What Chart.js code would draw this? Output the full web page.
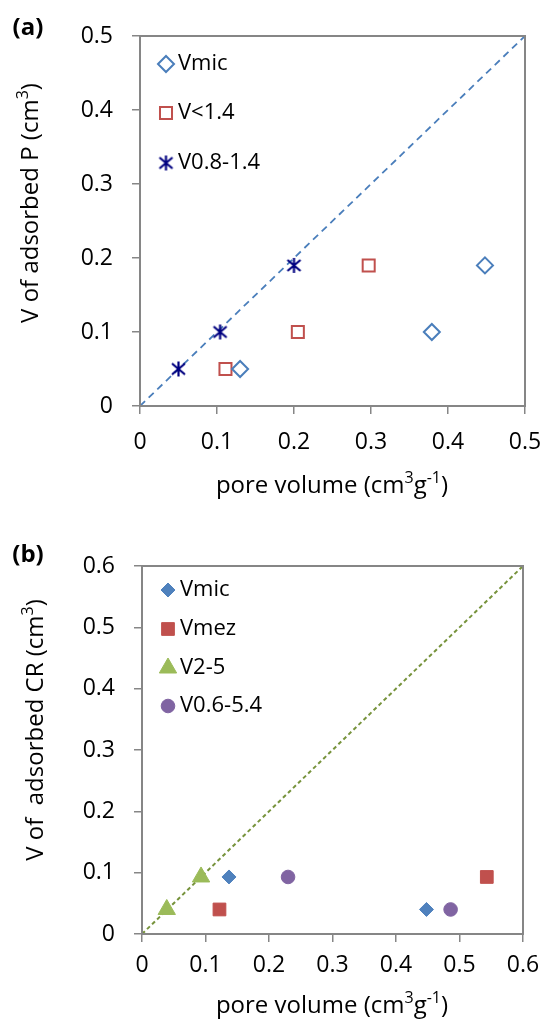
<!DOCTYPE html>
<html>
<head>
<meta charset="utf-8">
<script src="https://cdn.jsdelivr.net/npm/chart.js@4.4.1/dist/chart.umd.min.js"></script>
<style>
  html, body { margin: 0; padding: 0; background: #fff; }
  #wrapA { position: absolute; left: 0; top: 0; width: 543px; height: 500px; }
  #wrapB { position: absolute; left: 0; top: 500px; width: 543px; height: 520px; }
</style>
</head>
<body>
<div id="wrapA"><canvas id="chartA" width="543" height="500"></canvas></div>
<div id="wrapB"><canvas id="chartB" width="543" height="520"></canvas></div>
<script>
// ---------- Data: panel (a) ----------
const aVmicX = [0.130, 0.379, 0.448];
const aVmicY = [0.05, 0.10, 0.19];
const aV14X = [0.111, 0.205, 0.297];
const aV14Y = [0.05, 0.10, 0.19];
const aV0814X = [0.050, 0.104, 0.200];
const aV0814Y = [0.05, 0.10, 0.19];
const aLineX = [0, 0.5];
const aLineY = [0, 0.5];
const aSeriesNames = ['Vmic', 'V<1.4', 'V0.8-1.4'];
const aTicks = [0, 0.1, 0.2, 0.3, 0.4, 0.5];

// ---------- Data: panel (b) ----------
const bVmicX = [0.137, 0.448];
const bVmicY = [0.093, 0.040];
const bVmezX = [0.122, 0.543];
const bVmezY = [0.040, 0.093];
const bV25X = [0.039, 0.093];
const bV25Y = [0.040, 0.093];
const bV0654X = [0.230, 0.486];
const bV0654Y = [0.093, 0.040];
const bLineX = [0, 0.6];
const bLineY = [0, 0.6];
const bSeriesNames = ['Vmic', 'Vmez', 'V2-5', 'V0.6-5.4'];
const bTicks = [0, 0.1, 0.2, 0.3, 0.4, 0.5, 0.6];

const FONT = "'Open Sans', 'Noto Sans', sans-serif";
const AXIS_GRAY = '#868686';

function pts(xs, ys) { return xs.map((x, i) => ({ x: x, y: ys[i] })); }

// asterisk marker (X with vertical stroke)
function makeAsterisk() {
  const c = document.createElement('canvas');
  c.width = 17; c.height = 17;
  const g = c.getContext('2d');
  g.strokeStyle = '#000080';
  g.lineWidth = 2.2;
  g.beginPath();
  g.moveTo(2, 3); g.lineTo(15, 14);
  g.moveTo(15, 3); g.lineTo(2, 14);
  g.moveTo(8.5, 1); g.lineTo(8.5, 16);
  g.stroke();
  return c;
}
const asterisk = makeAsterisk();

function drawRich(ctx, parts, size, weight) {
  let w = 0;
  const items = parts.map(p => {
    const fs = p.sup ? Math.round(size * 0.68) : size;
    ctx.font = (weight || 'normal') + ' ' + fs + 'px ' + FONT;
    const m = ctx.measureText(p.t).width;
    w += m;
    return { t: p.t, fs: fs, w: m, sup: p.sup };
  });
  let x = -w / 2;
  ctx.textBaseline = 'middle';
  ctx.textAlign = 'left';
  items.forEach(it => {
    ctx.font = (weight || 'normal') + ' ' + it.fs + 'px ' + FONT;
    ctx.fillText(it.t, x, it.sup ? -size * 0.3 : 0);
    x += it.w;
  });
}

const decoPlugin = {
  id: 'deco',
  afterDraw(chart, args, opts) {
    const { ctx, chartArea: ca } = chart;
    ctx.save();
    ctx.strokeStyle = AXIS_GRAY;
    ctx.lineWidth = 2;
    ctx.strokeRect(ca.left, ca.top, ca.right - ca.left, ca.bottom - ca.top);

    const ds = chart.data.datasets;
    opts.legend.forEach((lg, i) => {
      const d = ds[i];
      ctx.save();
      ctx.strokeStyle = d.borderColor;
      ctx.fillStyle = d.backgroundColor;
      ctx.lineWidth = d.borderWidth;
      Chart.helpers.drawPoint(ctx, {
        pointStyle: d.pointStyle,
        radius: d.pointRadius,
        borderWidth: d.borderWidth,
        rotation: 0
      }, opts.legendX, lg.y);
      ctx.restore();
      ctx.fillStyle = '#000';
      ctx.font = opts.legendFont + 'px ' + FONT;
      ctx.textAlign = 'left';
      ctx.textBaseline = 'middle';
      ctx.fillText(d.label, opts.legendTextX, lg.y);
    });

    ctx.fillStyle = '#000';
    ctx.save();
    ctx.translate(opts.panel.x, opts.panel.y);
    drawRich(ctx, [{ t: opts.panel.text }], 24, 'bold');
    ctx.restore();

    ctx.save();
    ctx.translate(opts.xTitle.x, opts.xTitle.y);
    drawRich(ctx, opts.xTitle.parts, 24);
    ctx.restore();

    ctx.save();
    ctx.translate(opts.yTitle.x, opts.yTitle.y);
    ctx.rotate(-Math.PI / 2);
    drawRich(ctx, opts.yTitle.parts, 24);
    ctx.restore();

    ctx.restore();
  }
};

function makeScales(max, tickVals, yWidth, xHeight, xPad) {
  const common = {
    type: 'linear',
    min: 0,
    max: max,
    grid: { display: true, drawOnChartArea: false, drawTicks: true, tickLength: 8, color: AXIS_GRAY, lineWidth: 1.5 },
    border: { display: true, color: AXIS_GRAY, width: 2 },
    title: { display: false }
  };
  return {
    x: Object.assign({}, common, {
      position: 'bottom',
      afterBuildTicks: s => { s.ticks = tickVals.map(v => ({ value: v })); },
      ticks: { font: { family: FONT, size: 23 }, color: '#000', padding: xPad, maxRotation: 0, autoSkip: false },
      afterFit: s => { s.height = xHeight; s.paddingLeft = 0; s.paddingRight = 0; }
    }),
    y: Object.assign({}, common, {
      position: 'left',
      afterBuildTicks: s => { s.ticks = tickVals.map(v => ({ value: v })); },
      ticks: { font: { family: FONT, size: 23 }, color: '#000', padding: 19, autoSkip: false },
      afterFit: s => { s.width = yWidth; s.paddingTop = 0; s.paddingBottom = 0; }
    })
  };
}

// ---------- Chart (a) ----------
new Chart(document.getElementById('chartA'), {
  type: 'scatter',
  data: {
    datasets: [
      { label: aSeriesNames[0], data: pts(aVmicX, aVmicY), pointStyle: 'rectRot', pointRadius: 8, pointHoverRadius: 8,
        borderColor: '#4A7EBB', backgroundColor: 'rgba(255,255,255,0)', borderWidth: 2 },
      { label: aSeriesNames[1], data: pts(aV14X, aV14Y), pointStyle: 'rect', pointRadius: 8.5, pointHoverRadius: 8.5,
        borderColor: '#C0504D', backgroundColor: 'rgba(255,255,255,0)', borderWidth: 2 },
      { label: aSeriesNames[2], data: pts(aV0814X, aV0814Y), pointStyle: asterisk, pointRadius: 8, pointHoverRadius: 8,
        borderColor: '#000080', backgroundColor: '#000080', borderWidth: 2 },
      { label: 'line', data: pts(aLineX, aLineY), showLine: true, pointRadius: 0, borderColor: '#4A7EBB',
        borderWidth: 1.8, borderDash: [7, 5], fill: false }
    ]
  },
  options: {
    responsive: false,
    animation: false,
    events: [],
    layout: { padding: { left: 0, right: 18, top: 36, bottom: 0 } },
    scales: makeScales(0.5, aTicks, 140, 94, 15),
    plugins: {
      legend: { display: false },
      tooltip: { enabled: false },
      deco: {
        legendX: 166, legendTextX: 178, legendFont: 22,
        legend: [{ y: 64 }, { y: 113 }, { y: 163 }],
        panel: { text: '(a)', x: 28, y: 28 },
        xTitle: { x: 332, y: 486, parts: [{ t: 'pore volume (cm' }, { t: '3', sup: true }, { t: 'g' }, { t: '-1', sup: true }, { t: ')' }] },
        yTitle: { x: 31, y: 203, parts: [{ t: 'V of adsorbed P (cm' }, { t: '3', sup: true }, { t: ')' }] }
      }
    }
  },
  plugins: [decoPlugin]
});

// ---------- Chart (b) ----------
new Chart(document.getElementById('chartB'), {
  type: 'scatter',
  data: {
    datasets: [
      { label: bSeriesNames[0], data: pts(bVmicX, bVmicY), pointStyle: 'rectRot', pointRadius: 7, pointHoverRadius: 7,
        borderColor: '#4F81BD', backgroundColor: '#4F81BD', borderWidth: 1 },
      { label: bSeriesNames[1], data: pts(bVmezX, bVmezY), pointStyle: 'rect', pointRadius: 9, pointHoverRadius: 9,
        borderColor: '#C0504D', backgroundColor: '#C0504D', borderWidth: 1 },
      { label: bSeriesNames[2], data: pts(bV25X, bV25Y), pointStyle: 'triangle', pointRadius: 10, pointHoverRadius: 10,
        borderColor: '#9BBB59', backgroundColor: '#9BBB59', borderWidth: 1 },
      { label: bSeriesNames[3], data: pts(bV0654X, bV0654Y), pointStyle: 'circle', pointRadius: 6.8, pointHoverRadius: 6.8,
        borderColor: '#8064A2', backgroundColor: '#8064A2', borderWidth: 1 },
      { label: 'line', data: pts(bLineX, bLineY), showLine: true, pointRadius: 0, borderColor: '#77933C',
        borderWidth: 2, borderDash: [4, 3], fill: false }
    ]
  },
  options: {
    responsive: false,
    animation: false,
    events: [],
    layout: { padding: { left: 0, right: 20, top: 66, bottom: 0 } },
    scales: makeScales(0.6, bTicks, 142, 86, 10),
    plugins: {
      legend: { display: false },
      tooltip: { enabled: false },
      deco: {
        legendX: 168, legendTextX: 180, legendFont: 22,
        legend: [{ y: 90 }, { y: 129 }, { y: 168 }, { y: 206 }],
        panel: { text: '(b)', x: 28, y: 55 },
        xTitle: { x: 332, y: 506, parts: [{ t: 'pore volume (cm' }, { t: '3', sup: true }, { t: 'g' }, { t: '-1', sup: true }, { t: ')' }] },
        yTitle: { x: 36, y: 230, parts: [{ t: 'V of  adsorbed CR (cm' }, { t: '3', sup: true }, { t: ')' }] }
      }
    }
  },
  plugins: [decoPlugin]
});
</script>
</body>
</html>
